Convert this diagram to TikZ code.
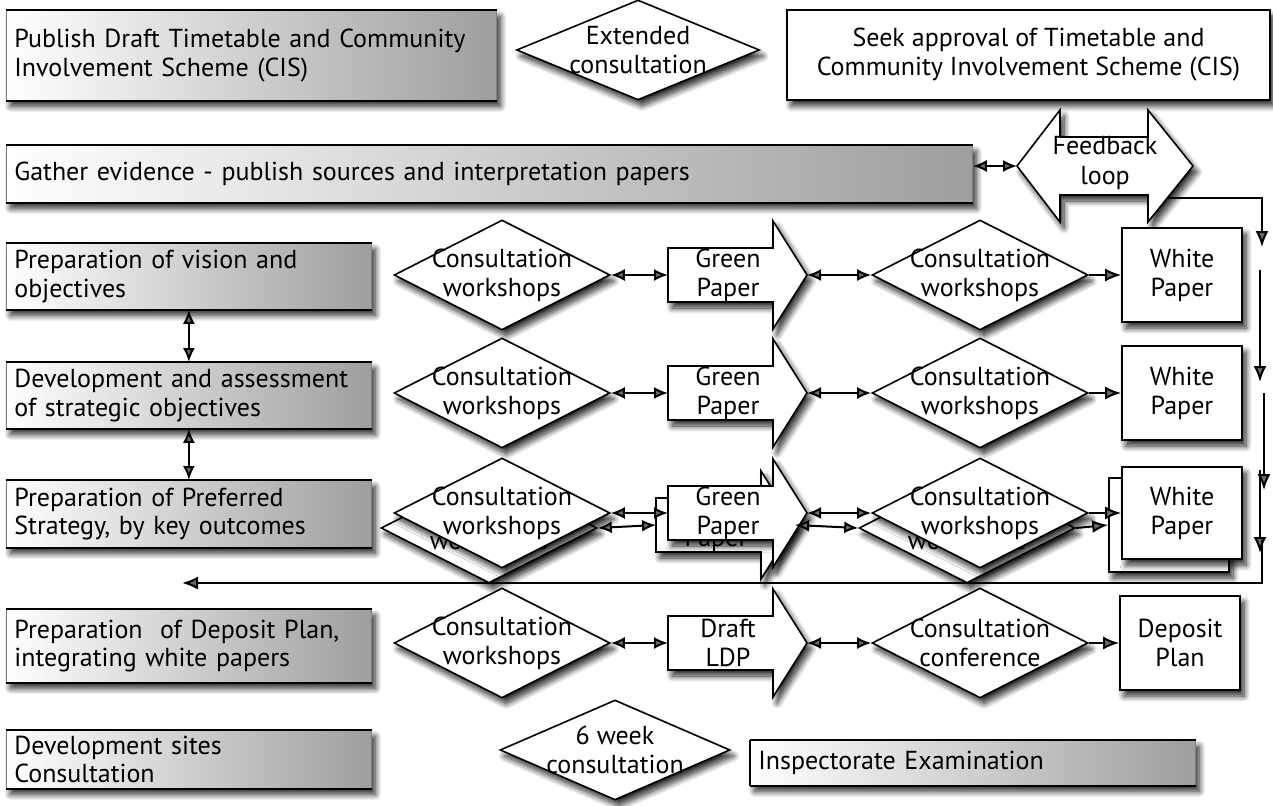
\documentclass[tikz,border=0pt]{standalone}
\usepackage{fontspec}
\setmainfont{PT Sans}
\usetikzlibrary{arrows.meta,shapes.geometric,shadows.blur}
\begin{document}
\begin{tikzpicture}[x=1pt,y=-1pt,
  txt/.style={font=\fontsize{26}{29}\selectfont, inner sep=0pt, align=center},
  shd/.style={blur shadow={shadow xshift=4pt, shadow yshift=-6pt, shadow blur radius=6pt, shadow blur steps=10, shadow opacity=85}},
  graybox/.style={shd, draw=black!50, line width=0.8pt, left color=white, right color=black!38, anchor=north west, inner xsep=8pt, inner ysep=0pt, align=left, font=\fontsize{26}{28.5}\selectfont},
  whitebox/.style={shd, draw, line width=1.6pt, fill=white, inner sep=0pt, align=center, font=\fontsize{26}{29}\selectfont},
  diam/.style={shd, diamond, draw, line width=1.6pt, fill=white, inner sep=0pt, minimum width=216pt, minimum height=110pt},
  edge/.style={line width=2pt},
  tip/.style={edge, -{Latex[length=16pt,width=13pt]}},
  dbl/.style={edge, {Latex[length=14pt,width=12pt]}-{Latex[length=14pt,width=12pt]}},
  pics/paperarrow/.style={code={
    \draw[shd, line width=1.6pt, fill=white] (0,-27) -- (105,-27) -- (105,-54) -- (139,0) -- (105,54) -- (105,27) -- (0,27) -- cycle;
    \coordinate (-w) at (0,0);
    \coordinate (-e) at (139,0);
    \node[txt] (-t) at (60,0) {#1};
  }},
]
\useasboundingbox (0,0) rectangle (1273,805);

% left grey boxes
\node[graybox, text width=474pt, minimum height=90pt] (pub) at (6,10) {Publish Draft Timetable and Community\\Involvement Scheme (CIS)};
\node[graybox, text width=950pt, minimum height=57pt] (gather) at (6,145) {Gather evidence - publish sources and interpretation papers};
\node[graybox, text width=349pt, minimum height=66pt] (b3) at (6,243) {Preparation of vision and\\objectives};
\node[graybox, text width=349pt, minimum height=66pt] (b4) at (6,362) {Development and assessment\\of strategic objectives};
\node[graybox, text width=349pt, minimum height=67pt] (b5) at (6,480) {Preparation of Preferred\\Strategy, by key outcomes};
\node[graybox, text width=349pt, minimum height=73pt] (b6) at (6,609) {Preparation\ \ of Deposit Plan,\\integrating white papers};
\node[graybox, text width=349pt, minimum height=58pt] (b7) at (6,730) {Development sites\\Consultation};
\node[graybox, text width=429pt, minimum height=45pt] (insp) at (750,740) {Inspectorate Examination};
\foreach \n in {pub,gather,b3,b4,b5,b6,b7,insp} {
  \draw[line width=2.4pt] (\n.north west) -- (\n.north east);
  \draw[line width=2.4pt] (\n.south west) -- (\n.south east);
}
\draw[line width=1.6pt] (insp.north west) -- (insp.south west);

% top row
\node[diam, minimum width=243pt, minimum height=100pt] (ext) at (638,50) {};
\node[txt] (extt) at (ext) {Extended\\consultation};
\node[whitebox, minimum width=483pt, minimum height=90pt] (seek) at (1028.5,55) {Seek approval of Timetable and\\Community Involvement Scheme (CIS)};

% feedback loop
\draw[shd, line width=1.6pt, fill=white] (1017,166) -- (1060,110) -- (1060,137) -- (1148,137) -- (1148,110) -- (1193,166) -- (1148,222) -- (1148,195) -- (1060,195) -- (1060,222) -- cycle;
\node[txt] (fb) at (1105,163) {Feedback\\loop};
\coordinate (fbL) at (1017,166);
\coordinate (fbout) at (1167,198);

% row 1
\node[diam] (d1) at (502,275) {};
\node[txt] (d1t) at (d1) {Consultation\\workshops};
\pic (g1) at (668,275) {paperarrow={Green\\Paper}};
\node[diam] (e1) at (980,275) {};
\node[txt] (e1t) at (e1) {Consultation\\workshops};
\node[whitebox, minimum width=120pt, minimum height=94pt] (w1) at (1182,275) {White\\Paper};

% row 2
\node[diam] (d2) at (502,393) {};
\node[txt] (d2t) at (d2) {Consultation\\workshops};
\pic (g2) at (668,393) {paperarrow={Green\\Paper}};
\node[diam] (e2) at (980,393) {};
\node[txt] (e2t) at (e2) {Consultation\\workshops};
\node[whitebox, minimum width=120pt, minimum height=94pt] (w2) at (1182,393) {White\\Paper};

% row 3 (back copies)
\node[diam] (d3b) at (489,528) {};
\node[txt] (d3bt) at (d3b) {Consultation\\workshops};
\pic (g3b) at (656,525) {paperarrow={Green\\Paper}};
\node[diam] (e3b) at (967,528) {};
\node[txt] (e3bt) at (e3b) {Consultation\\workshops};
\node[whitebox, minimum width=120pt, minimum height=94pt] (w3b) at (1169,525) {White\\Paper};
% row 3 (front)
\node[diam] (d3) at (502,513) {};
\node[txt] (d3t) at (d3) {Consultation\\workshops};
\pic (g3) at (668,513) {paperarrow={Green\\Paper}};
\node[diam] (e3) at (980,513) {};
\node[txt] (e3t) at (e3) {Consultation\\workshops};
\node[whitebox, minimum width=120pt, minimum height=92pt] (w3) at (1182,513) {White\\Paper};

% row 4
\node[diam] (d4) at (502,643) {};
\node[txt] (d4t) at (d4) {Consultation\\workshops};
\pic (g4) at (668,643) {paperarrow={Draft\\LDP}};
\node[diam] (e4) at (980,643) {};
\node[txt] (e4t) at (e4) {Consultation\\conference};
\node[whitebox, minimum width=120pt, minimum height=94pt] (w4) at (1180,643) {Deposit\\Plan};

% row 5
\node[diam, minimum width=230pt, minimum height=100pt] (six) at (615,750) {};
\node[txt] (sixt) at (six) {6 week\\consultation};

% connectors
\draw[dbl] (gather.east |- fbL) -- (fbL);
\draw[dbl] (b3.south) -- (b4.north);
\draw[dbl] (b4.south) -- (b5.north);
\foreach \r in {1,2,3,4} {
  \draw[dbl] (d\r.east) -- (g\r-w);
  \draw[dbl] (g\r-e) -- (e\r.west);
  \draw[tip] (e\r.east) -- (w\r.west);
}
\draw[dbl] (d3b.east) -- (g3b-w);
\draw[dbl] (g3b-e) -- (e3b.west);
\draw[tip] (e3b.east) -- (w3b.west);

% right-hand flow
\coordinate (c1) at (1262,247);
\draw[tip] (fbout) -| (c1);
\coordinate (c2s) at (1260,270);
\coordinate (c2e) at (1260,382);
\draw[tip] (c2s) -- (c2e);
\coordinate (c3s) at (1264,393);
\coordinate (c3e) at (1264,490);
\draw[tip] (c3s) -- (c3e);
\coordinate (c4s) at (1260,470);
\coordinate (c4e) at (1260,553);
\draw[tip] (c4s) -- (c4e);
\coordinate (c5s) at (1262,540);
\coordinate (c5e) at (182,583);
\draw[tip] (c5s) |- (c5e);
\end{tikzpicture}
\end{document}
